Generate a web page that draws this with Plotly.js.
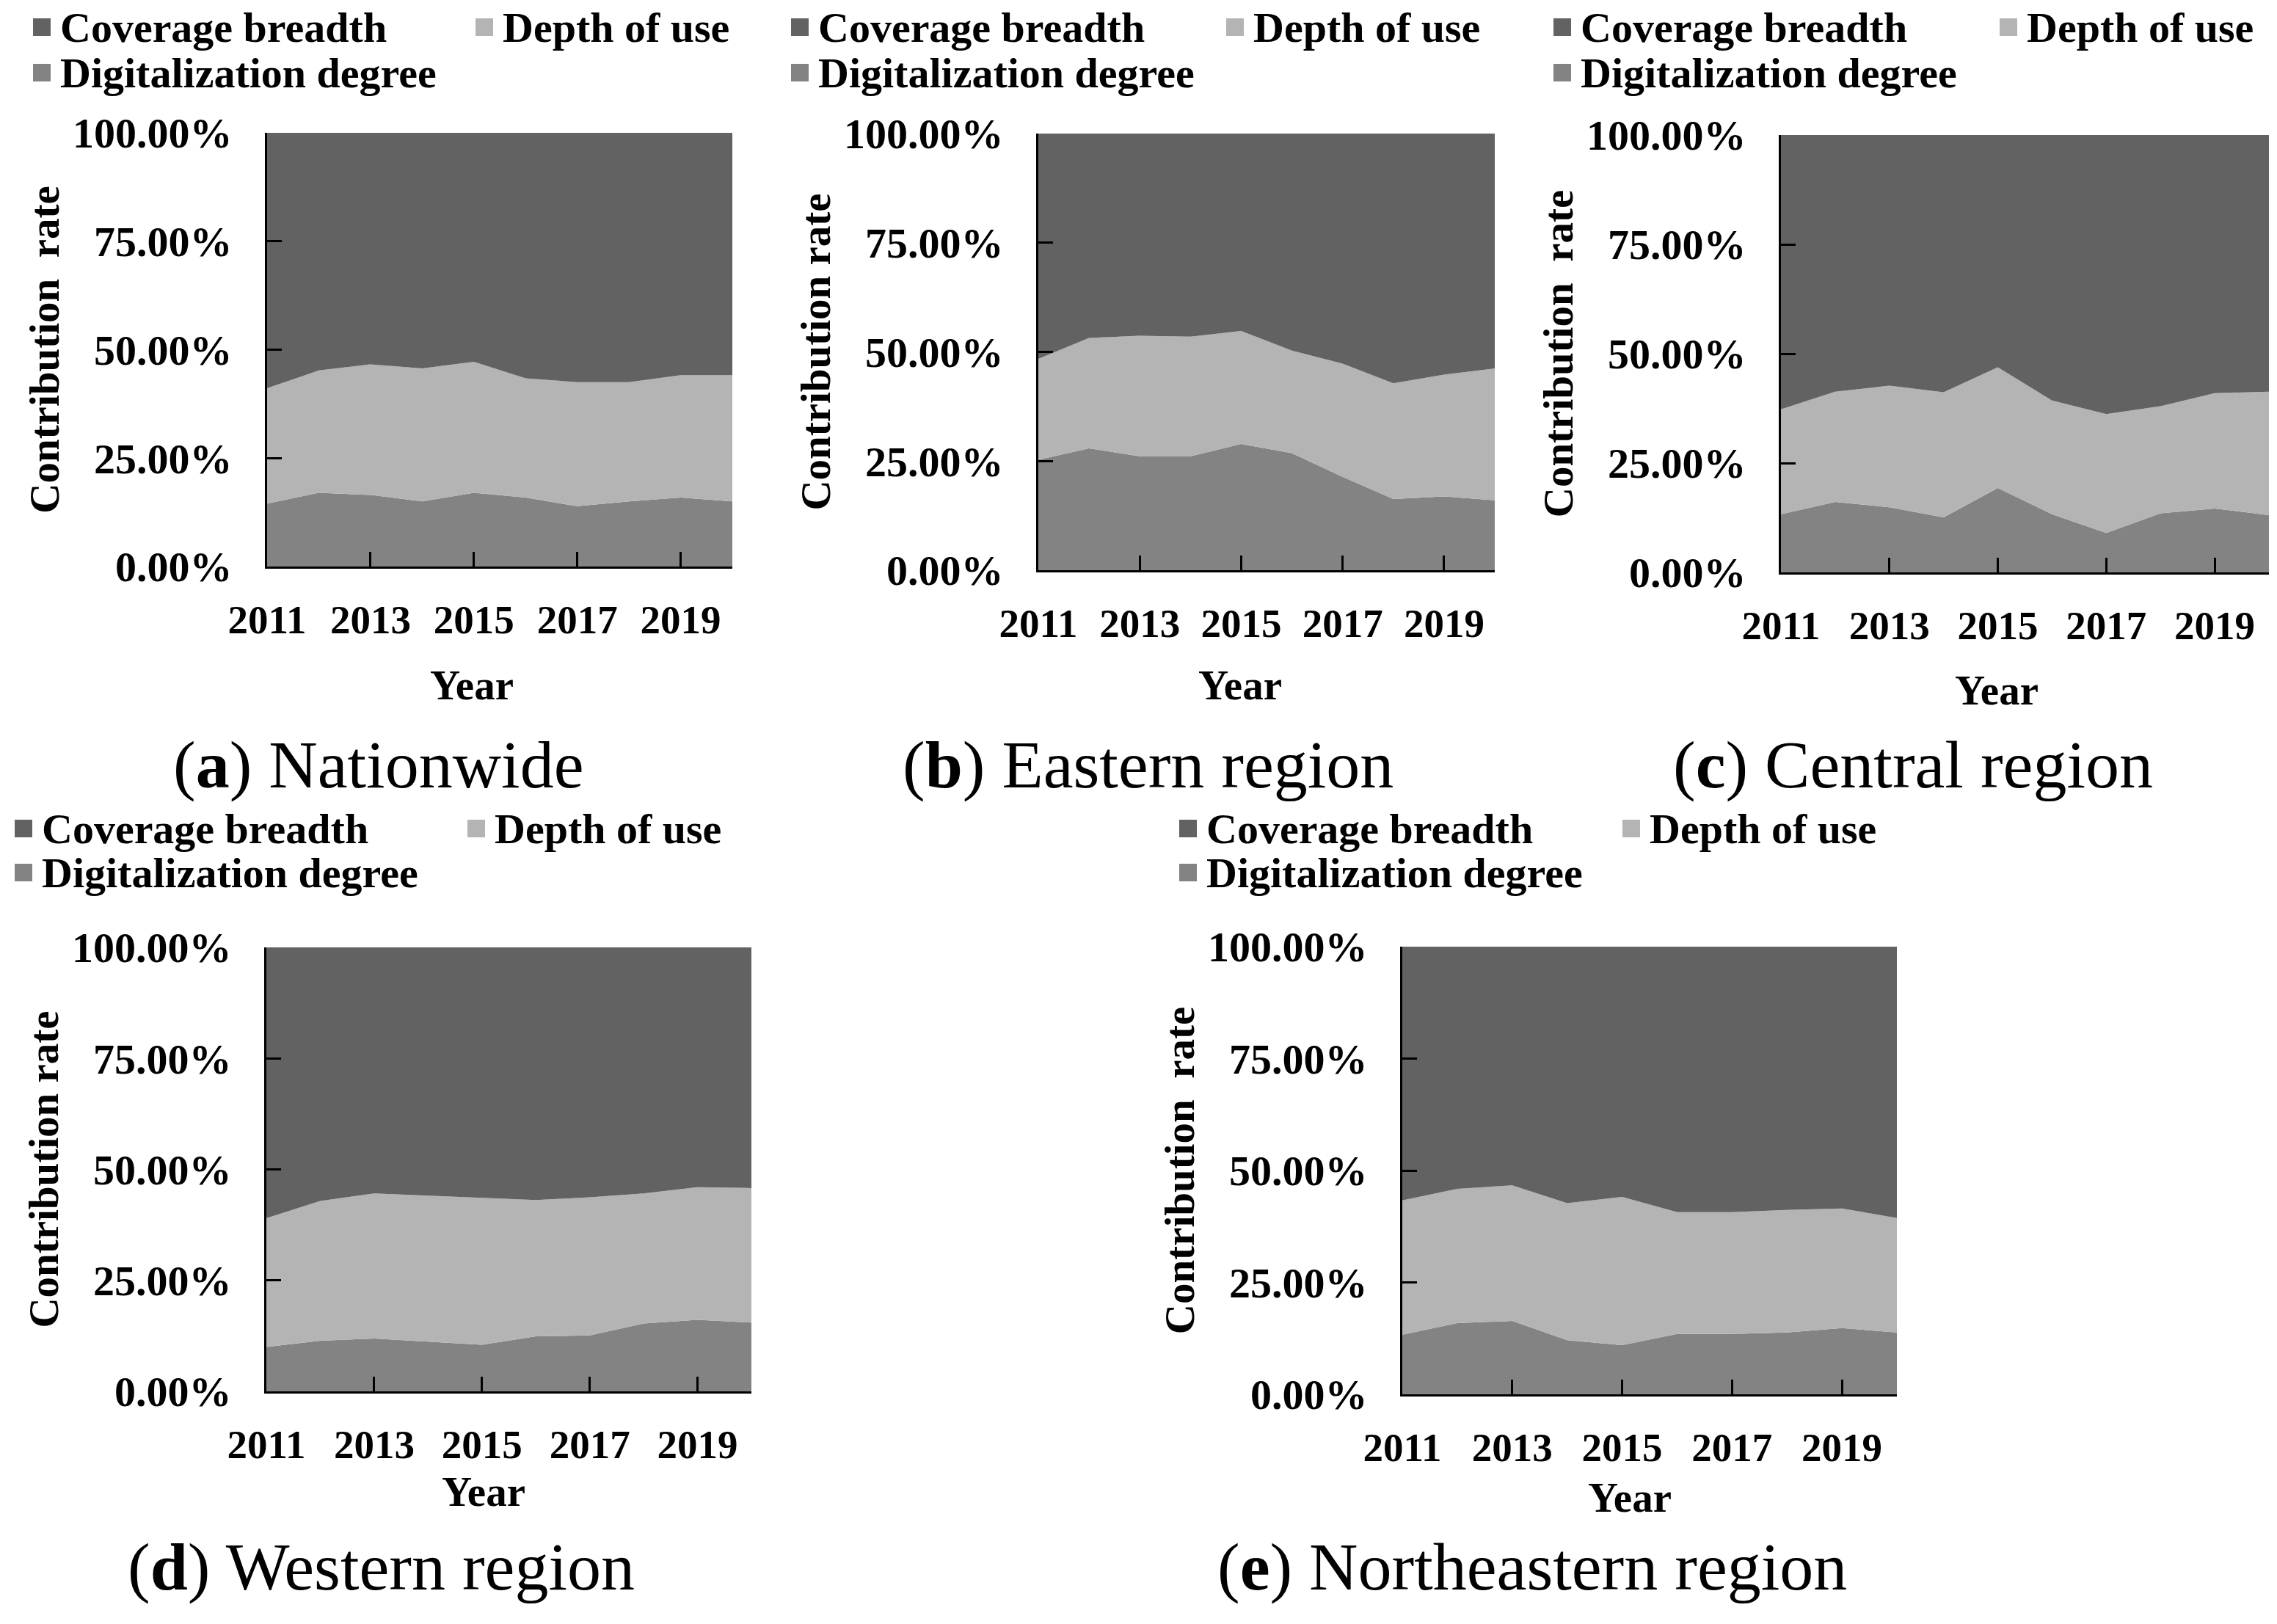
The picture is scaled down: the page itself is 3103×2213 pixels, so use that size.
<!DOCTYPE html>
<html>
<head>
<meta charset="utf-8">
<script src="https://cdn.plot.ly/plotly-3.0.1.min.js"></script>
<style>html,body{margin:0;padding:0;background:#fff;}#chart{width:3103px;height:2213px;}</style>
</head>
<body>
<div id="chart"></div>
<script>
// ---------- data ----------
const years = [2011, 2012, 2013, 2014, 2015, 2016, 2017, 2018, 2019, 2020];
const yearTicks = [2011, 2013, 2015, 2017, 2019];
const rateTicks = [0, 25, 50, 75, 100];
const seriesNames = ["Coverage breadth", "Depth of use", "Digitalization degree"];
const xTitle = "Year";
const yTitles = ["Contribution\u00a0 rate", "Contribution rate", "Contribution\u00a0 rate", "Contribution rate", "Contribution\u00a0 rate"];

// Nationwide
const digitalNation  = [14.5, 17.0, 16.5, 15.0, 17.0, 15.9, 13.9, 15.0, 15.9, 15.0];
const depthNation    = [26.6, 28.2, 30.1, 30.7, 30.2, 27.5, 28.6, 27.5, 28.2, 29.1];
const coverageNation = [58.9, 54.8, 53.4, 54.3, 52.8, 56.6, 57.5, 57.5, 55.9, 55.9];
// Eastern region
const digitalEast  = [25.3, 27.9, 26.1, 26.1, 28.9, 26.8, 21.4, 16.3, 16.9, 16.0];
const depthEast    = [23.1, 25.3, 27.6, 27.4, 25.9, 23.5, 25.9, 26.5, 27.9, 30.2];
const coverageEast = [51.6, 46.8, 46.3, 46.5, 45.2, 49.7, 52.7, 57.2, 55.2, 53.8];
// Central region
const digitalCentral  = [13.3, 16.1, 14.9, 12.6, 19.3, 13.3, 9.0, 13.5, 14.6, 13.1];
const depthCentral    = [24.0, 25.2, 27.8, 28.6, 27.6, 26.0, 27.2, 24.5, 26.4, 28.2];
const coverageCentral = [62.7, 58.7, 57.3, 58.8, 53.1, 60.7, 63.8, 62.0, 59.0, 58.7];
// Western region
const digitalWest  = [10.0, 11.4, 11.9, 11.2, 10.5, 12.4, 12.6, 15.3, 16.1, 15.5];
const depthWest    = [29.0, 31.5, 32.7, 32.9, 33.2, 30.7, 31.1, 29.3, 29.9, 30.3];
const coverageWest = [61.0, 57.1, 55.4, 55.9, 56.3, 56.9, 56.3, 55.4, 54.0, 54.2];
// Northeastern region
const digitalNE  = [13.3, 15.9, 16.4, 12.1, 11.0, 13.5, 13.5, 13.8, 14.8, 13.8];
const depthNE    = [30.0, 30.0, 30.3, 30.6, 33.1, 27.2, 27.2, 27.4, 26.7, 25.6];
const coverageNE = [56.7, 54.1, 53.3, 57.3, 55.9, 59.3, 59.3, 58.8, 58.5, 60.6];

const captionLetters = ["a", "b", "c", "d", "e"];
const captionNames = ["Nationwide", "Eastern region", "Central region", "Western region", "Northeastern region"];

// ---------- layout / styling ----------
const W = 3103, H = 2213;
const colors = {cov: "#626262", depth: "#b4b4b4", dig: "#838383"};
const FONT = "Liberation Serif, Times New Roman, serif";
const px = x => x / W;
const py = y => 1 - y / H;

const panels = [
  {dig: digitalNation, dep: depthNation, cov: coverageNation, x: [364, 998], y: [181, 772], leg: {s1: 45, t1: 80, s2: 648, t2: 683, r1: 37, r2: 99}, cap: [516, 1042], xt: [643, 934]},
  {dig: digitalEast, dep: depthEast, cov: coverageEast, x: [1415, 2037], y: [182, 777], leg: {s1: 1078, t1: 1113, s2: 1671, t2: 1706, r1: 37, r2: 99}, cap: [1564, 1042], xt: [1690, 934]},
  {dig: digitalCentral, dep: depthCentral, cov: coverageCentral, x: [2427, 3092], y: [184, 780], leg: {s1: 2117, t1: 2152, s2: 2725, t2: 2760, r1: 37, r2: 99}, cap: [2607, 1042], xt: [2721, 940]},
  {dig: digitalWest, dep: depthWest, cov: coverageWest, x: [363, 1024], y: [1291, 1896], leg: {s1: 20, t1: 55, s2: 637, t2: 672, r1: 1129, r2: 1189}, cap: [519, 2135], xt: [659, 2032]},
  {dig: digitalNE, dep: depthNE, cov: coverageNE, x: [1911, 2585], y: [1290, 1900], leg: {s1: 1607, t1: 1642, s2: 2211, t2: 2246, r1: 1129, r2: 1189}, cap: [2088, 2135], xt: [2221, 2040]}
];

const traces = [];
const layout = {
  width: W, height: H,
  margin: {l: 0, r: 0, t: 0, b: 0},
  paper_bgcolor: "#ffffff", plot_bgcolor: "#ffffff",
  showlegend: false,
  font: {family: FONT, size: 54, color: "#000"},
  annotations: [], shapes: []
};

const xTickFont = {family: FONT, size: 55, color: "#000", weight: "bold"};
const yTickFont = {family: FONT, size: 58, color: "#000", weight: "bold"};
const titleFont = {family: FONT, size: 57, color: "#000", weight: "bold"};

panels.forEach((p, i) => {
  const n = i === 0 ? "" : String(i + 1);
  const xa = "x" + n, ya = "y" + n;
  const series = [
    {name: seriesNames[2], vals: p.dig, color: colors.dig},
    {name: seriesNames[1], vals: p.dep, color: colors.depth},
    {name: seriesNames[0], vals: p.cov, color: colors.cov}
  ];
  series.forEach(s => {
    traces.push({
      type: "scatter", x: years, y: s.vals, name: s.name,
      xaxis: xa, yaxis: ya, stackgroup: "g" + i,
      mode: "lines", line: {width: 0, color: s.color}, fillcolor: s.color,
      hoverinfo: "x+y+name"
    });
  });
  layout["xaxis" + n] = {
    domain: [px(p.x[0]), px(p.x[1])], anchor: ya,
    range: [years[0], years[years.length - 1]],
    tickmode: "array", tickvals: yearTicks, ticktext: yearTicks.map(String),
    ticks: "inside", ticklen: 20, tickwidth: 3, tickcolor: "#000",
    showline: true, linecolor: "#000", linewidth: 3,
    showgrid: false, zeroline: false,
    tickfont: xTickFont, ticklabelstandoff: 22
  };
  layout["yaxis" + n] = {
    domain: [py(p.y[1]), py(p.y[0])], anchor: xa,
    range: [0, 100],
    tickmode: "array", tickvals: rateTicks, ticktext: rateTicks.map(v => v.toFixed(2) + "%"),
    ticks: "inside", ticklen: 20, tickwidth: 3, tickcolor: "#000",
    showline: true, linecolor: "#000", linewidth: 3,
    showgrid: false, zeroline: false,
    tickfont: yTickFont, ticklabelstandoff: 33,
    title: {text: yTitles[i], font: titleFont, standoff: 0}
  };

  // x-axis title (placed as in the original, slightly left of the plot centre)
  layout.annotations.push({xref: "paper", yref: "paper", x: px(p.xt[0]), y: py(p.xt[1]),
    xanchor: "center", yanchor: "middle", showarrow: false, text: xTitle, font: titleFont});

  // legend (swatches + labels)
  const L = p.leg, sq = 24;
  const items = [
    {sx: L.s1, tx: L.t1, y: L.r1, name: seriesNames[0], color: colors.cov},
    {sx: L.s2, tx: L.t2, y: L.r1, name: seriesNames[1], color: colors.depth},
    {sx: L.s1, tx: L.t1, y: L.r2, name: seriesNames[2], color: colors.dig}
  ];
  items.forEach(it => {
    layout.shapes.push({type: "rect", xref: "paper", yref: "paper",
      x0: px(it.sx), x1: px(it.sx + sq), y0: py(it.y + sq / 2), y1: py(it.y - sq / 2),
      fillcolor: it.color, line: {width: 0}});
    layout.annotations.push({xref: "paper", yref: "paper", x: px(it.tx), y: py(it.y),
      xanchor: "left", yanchor: "middle", showarrow: false, text: it.name,
      font: {family: FONT, size: 58, color: "#000", weight: "bold"}});
  });

  // caption
  layout.annotations.push({xref: "paper", yref: "paper", x: px(p.cap[0]), y: py(p.cap[1]),
    xanchor: "center", yanchor: "middle", showarrow: false,
    text: "(<b>" + captionLetters[i] + "</b>) " + captionNames[i],
    font: {family: FONT, size: 92, color: "#000"}});
});

Plotly.newPlot("chart", traces, layout, {staticPlot: true, displayModeBar: false});
</script>
</body>
</html>
